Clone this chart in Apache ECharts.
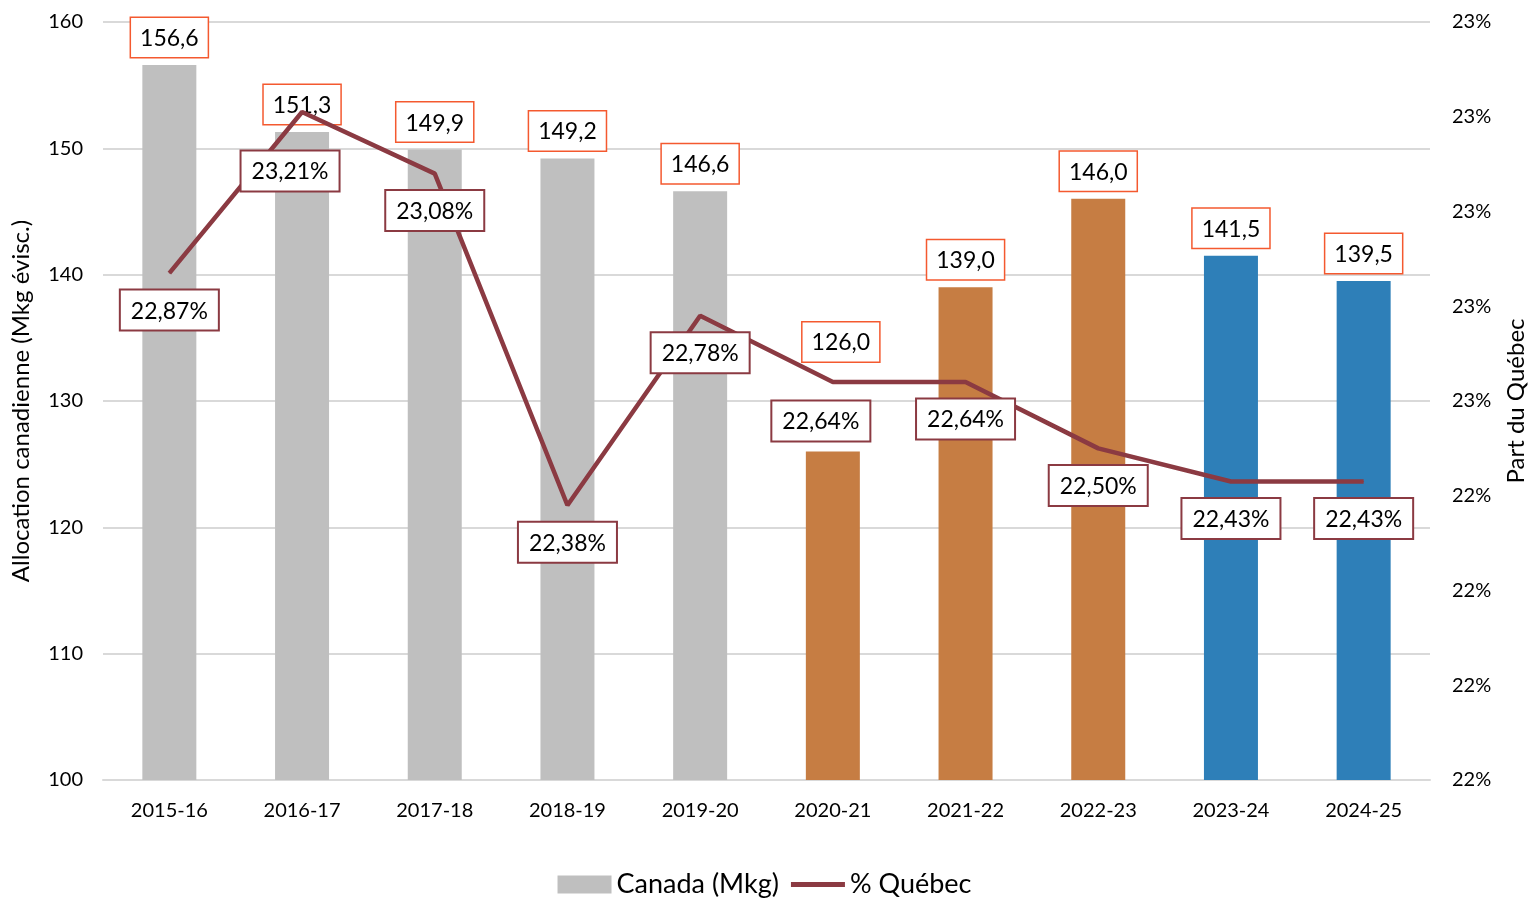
<!DOCTYPE html>
<html>
<head>
<meta charset="utf-8">
<script src="https://cdn.jsdelivr.net/npm/echarts@6/dist/echarts.min.js"></script>
<style>
  html, body { margin: 0; padding: 0; background: #fff; }
  #main { width: 1529px; height: 900px; }
</style>
</head>
<body>
<div id="main"></div>
<script>
// données
var annees = ['2015-16', '2016-17', '2017-18', '2018-19', '2019-20', '2020-21', '2021-22', '2022-23', '2023-24', '2024-25'];
var canada = [156.6, 151.3, 149.9, 149.2, 146.6, 126.0, 139.0, 146.0, 141.5, 139.5];
var partQuebec = [22.87, 23.21, 23.08, 22.38, 22.78, 22.64, 22.64, 22.50, 22.43, 22.43];
var couleursBarres = ['#BFBFBF', '#BFBFBF', '#BFBFBF', '#BFBFBF', '#BFBFBF', '#C67D43', '#C67D43', '#C67D43', '#2E7FB8', '#2E7FB8'];

(function () {
    var myChart = echarts.init(document.getElementById('main'));
    var police = 'Lato';

    // étiquettes déplacées à la main (comme dans Excel)
    var decalagesLigne = { 1: [-12, 22], 5: [-12, 2] };
    var decalagesBarres = { 5: [8, -82] };

    var barData = canada.map(function (v, i) {
        var d = { value: v, itemStyle: { color: couleursBarres[i] } };
        if (decalagesBarres[i]) d.label = { offset: decalagesBarres[i] };
        return d;
    });
    var lineData = partQuebec.map(function (v, i) {
        var d = { value: v };
        if (decalagesLigne[i]) d.label = { offset: decalagesLigne[i] };
        return d;
    });

    var option = {
        textStyle: { fontFamily: police },
        grid: { left: 103, right: 99, top: 22, bottom: 120, outerBoundsMode: 'none' },
        legend: {
            top: 866,
            left: 'center',
            itemGap: 12,
            itemWidth: 54,
            itemHeight: 18,
            textStyle: { fontSize: 27, color: '#000', fontFamily: police },
            data: [
                { name: 'Canada (Mkg)', icon: 'rect' },
                { name: '% Québec', icon: 'path://M0,0H100V9H0Z' }
            ]
        },
        xAxis: {
            type: 'category',
            data: annees,
            axisLine: { lineStyle: { color: '#D9D9D9', width: 2 } },
            axisTick: { show: false },
            axisLabel: { color: '#000', fontSize: 20, margin: 21, fontFamily: police }
        },
        yAxis: [
            {
                type: 'value',
                min: 100,
                max: 160,
                interval: 10,
                name: 'Allocation canadienne (Mkg évisc.)',
                nameLocation: 'middle',
                nameGap: 70,
                nameTextStyle: { fontSize: 24, color: '#000', fontFamily: police },
                axisLine: { show: false },
                axisTick: { show: false },
                axisLabel: { color: '#000', fontSize: 20, margin: 20, fontFamily: police },
                splitLine: { lineStyle: { color: '#D9D9D9', width: 2 } }
            },
            {
                type: 'value',
                min: 21.8,
                max: 23.4,
                interval: 0.2,
                name: 'Part du Québec',
                nameLocation: 'middle',
                nameGap: 74,
                nameTextStyle: { fontSize: 24, color: '#000', fontFamily: police },
                axisLine: { show: false },
                axisTick: { show: false },
                splitLine: { show: false },
                axisLabel: {
                    color: '#000', fontSize: 20, margin: 22, fontFamily: police,
                    formatter: function (v) { return Math.round(v) + '%'; }
                }
            }
        ],
        series: [
            {
                name: 'Canada (Mkg)',
                type: 'bar',
                barWidth: 54,
                itemStyle: { color: '#BFBFBF' },
                data: barData,
                label: {
                    show: true,
                    position: 'top',
                    distance: 8,
                    color: '#000',
                    fontSize: 23,
                    fontFamily: police,
                    backgroundColor: '#fff',
                    borderColor: '#F4592F',
                    borderWidth: 1.5,
                    padding: [9, 9, 7, 9],
                    formatter: function (p) { return p.value.toFixed(1).replace('.', ','); }
                }
            },
            {
                name: '% Québec',
                type: 'line',
                yAxisIndex: 1,
                data: lineData,
                symbol: 'circle',
                symbolSize: 1,
                itemStyle: { color: '#8B3A42' },
                lineStyle: { color: '#8B3A42', width: 4.5 },
                z: 3,
                label: {
                    show: true,
                    position: 'bottom',
                    distance: 17,
                    color: '#000',
                    fontSize: 23,
                    fontFamily: police,
                    backgroundColor: '#fff',
                    borderColor: '#8B3A42',
                    borderWidth: 2,
                    padding: [9, 10, 7, 10],
                    formatter: function (p) { return p.value.toFixed(2).replace('.', ',') + '%'; }
                }
            }
        ]
    };

    myChart.setOption(option);
    window.addEventListener('resize', function () {
        myChart.resize();
    });
})();
</script>
</body>
</html>
